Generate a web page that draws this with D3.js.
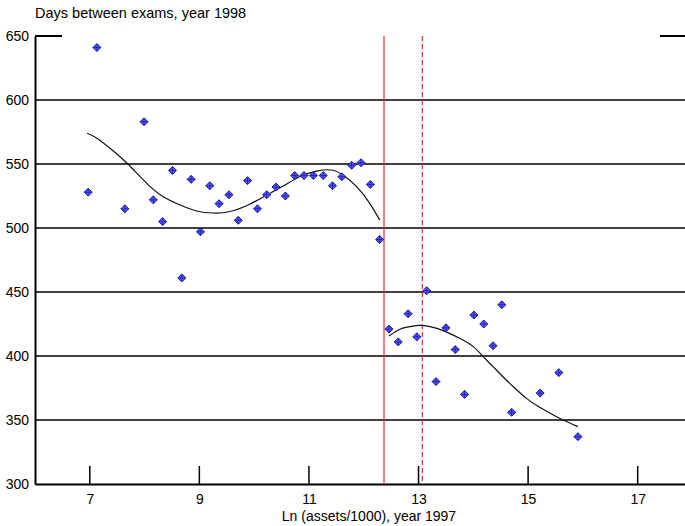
<!DOCTYPE html>
<html>
<head>
<meta charset="utf-8">
<script src="https://cdn.jsdelivr.net/npm/d3@7"></script>
<style>
  body { margin: 0; background: #fff; }
  svg { display: block; font-family: "Liberation Sans", Arial, sans-serif; }
</style>
</head>
<body>
<div class="container"></div>
<script>
const WIDTH = 685;
const HEIGHT = 526;

// scatter: Ln(assets/1000) 1997 vs days between exams 1998
var assets = [6.97, 7.13, 7.64, 7.99, 8.16, 8.33, 8.51, 8.68, 8.85, 9.02, 9.19, 9.36, 9.54, 9.71,
    9.88, 10.06, 10.23, 10.40, 10.57, 10.74, 10.91, 11.08, 11.26, 11.43, 11.60, 11.78, 11.95,
    12.12, 12.29,
    12.46, 12.63, 12.81, 12.97, 13.15, 13.32, 13.50, 13.67, 13.84, 14.01, 14.19, 14.36, 14.52,
    14.70, 15.22, 15.56, 15.91];
var days = [528, 641, 515, 583, 522, 505, 545, 461, 538, 497, 533, 519, 526, 506,
    537, 515, 526, 532, 525, 541, 541, 541, 541, 533, 540, 549, 551,
    534, 491,
    421, 411, 433, 415, 451, 380, 422, 405, 370, 432, 425, 408, 440,
    356, 371, 387, 337];

// smoothed fits
var fitLeftX = [6.95, 7.13, 7.43, 7.70, 8.04, 8.34, 8.65, 8.95, 9.25, 9.56, 9.92,
    10.23, 10.53, 10.83, 11.14, 11.41, 11.62, 11.87, 12.11, 12.29];
var fitLeftY = [574.0, 570.1, 560.2, 549.8, 534.9, 524.5, 518.0, 513.3, 511.7, 512.9,
    518.6, 525.8, 532.8, 540.1, 544.5, 545.3, 541.4, 532.3, 519.3, 506.3];
var fitRightX = [12.46, 12.66, 12.84, 13.02, 13.21, 13.45, 13.75, 14.00, 14.18, 14.36, 14.54,
    14.73, 14.97, 15.21, 15.46, 15.64, 15.91];
var fitRightY = [415.6, 420.9, 422.9, 424.0, 422.9, 419.8, 413.8, 407.3, 399.5, 391.7, 383.8,
    376.0, 366.9, 359.9, 353.9, 350.0, 344.8];

var xTicks = [7, 9, 11, 13, 15, 17];
var yTicks = [300, 350, 400, 450, 500, 550, 600, 650];
var cutSolid = 12.37;
var cutDashed = 13.07;

var svg = d3.select(".container")
    .append("svg")
    .attr("width", WIDTH)
    .attr("height", HEIGHT);

var xScale = d3.scaleLinear()
    .domain([6, 17.9])
    .range([35, 687]);

var yScale = d3.scaleLinear()
    .domain([300, 650])
    .range([484, 36]);

// gridlines (not at the top)
svg.append("g")
    .selectAll("line")
    .data(yTicks.filter(function (d) { return d > 300 && d < 650; }))
    .enter().append("line")
    .attr("x1", xScale.range()[0])
    .attr("x2", WIDTH)
    .attr("y1", function (d) { return yScale(d); })
    .attr("y2", function (d) { return yScale(d); })
    .attr("stroke", "#000")
    .attr("stroke-width", 1.3);

// y axis
var yAxis = svg.append("g")
    .attr("transform", "translate(" + xScale.range()[0] + ",0)")
    .call(d3.axisLeft(yScale).tickValues(yTicks).tickSize(0).tickPadding(6));
yAxis.select(".domain").attr("stroke-width", 2);
yAxis.selectAll("text").attr("font-size", 14).attr("fill", "#000")
    .attr("font-family", "Liberation Sans, Arial, sans-serif");

// short inward tick at 650 on both sides
svg.append("g").selectAll("line")
    .data([[xScale.range()[0], xScale.range()[0] + 27], [xScale.range()[1] - 27, xScale.range()[1]]])
    .enter().append("line")
    .attr("x1", function (d) { return d[0]; })
    .attr("x2", function (d) { return d[1]; })
    .attr("y1", yScale(650))
    .attr("y2", yScale(650))
    .attr("stroke", "#000")
    .attr("stroke-width", 2);

// x axis with inward ticks
var xAxis = svg.append("g")
    .attr("transform", "translate(0," + yScale.range()[0] + ")")
    .call(d3.axisBottom(xScale).tickValues(xTicks).tickSize(0).tickPadding(10));
xAxis.select(".domain").attr("stroke-width", 2);
xAxis.selectAll("text").attr("font-size", 14).attr("fill", "#000")
    .attr("font-family", "Liberation Sans, Arial, sans-serif");
svg.append("g").selectAll("line")
    .data(xTicks)
    .enter().append("line")
    .attr("x1", function (d) { return xScale(d); })
    .attr("x2", function (d) { return xScale(d); })
    .attr("y1", yScale.range()[0])
    .attr("y2", yScale.range()[0] - 18)
    .attr("stroke", "#000")
    .attr("stroke-width", 1.5);

// cutoff lines
svg.append("line")
    .attr("x1", xScale(cutSolid)).attr("x2", xScale(cutSolid))
    .attr("y1", yScale(650)).attr("y2", yScale(300))
    .attr("stroke", "#e83030").attr("stroke-width", 1.2);
svg.append("line")
    .attr("x1", xScale(cutDashed)).attr("x2", xScale(cutDashed))
    .attr("y1", yScale(650)).attr("y2", yScale(300))
    .attr("stroke", "#e83030").attr("stroke-width", 1.2)
    .attr("stroke-dasharray", "5,3");

// fitted curves
var line = d3.line()
    .x(function (d) { return xScale(d[0]); })
    .y(function (d) { return yScale(d[1]); })
    .curve(d3.curveNatural);

[[fitLeftX, fitLeftY], [fitRightX, fitRightY]].forEach(function (f) {
    svg.append("path")
        .attr("d", line(d3.zip(f[0], f[1])))
        .attr("fill", "none")
        .attr("stroke", "#111")
        .attr("stroke-width", 1.2);
});

// markers: diamond with crosshair
var pts = svg.append("g").selectAll("g")
    .data(d3.zip(assets, days))
    .enter().append("g")
    .attr("transform", function (d) { return "translate(" + xScale(d[0]) + "," + yScale(d[1]) + ")"; });
pts.append("path")
    .attr("d", "M0,-4L4,0L0,4L-4,0Z")
    .attr("fill", "#5a5aff")
    .attr("stroke", "#1a1aa8")
    .attr("stroke-width", 1);
pts.append("path")
    .attr("d", "M0,-3.5V3.5M-3.5,0H3.5")
    .attr("stroke", "#1a1aa8")
    .attr("stroke-width", 0.8);

// titles
svg.append("text")
    .attr("x", 35)
    .attr("y", 18)
    .attr("font-size", 14.5)
    .text("Days between exams, year 1998");
svg.append("text")
    .attr("x", 369)
    .attr("y", 521)
    .attr("text-anchor", "middle")
    .attr("font-size", 14)
    .text("Ln (assets/1000), year 1997");
</script>
</body>
</html>
